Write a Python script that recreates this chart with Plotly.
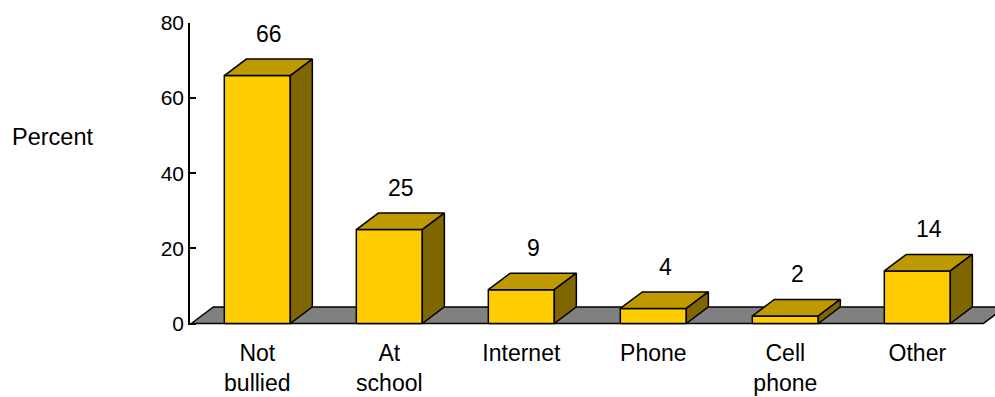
import plotly.graph_objects as go

# ---- data ----
categories = ["Not bullied", "At school", "Internet", "Phone", "Cell phone", "Other"]
tick_labels = ["Not<br>bullied", "At<br>school", "Internet", "Phone", "Cell<br>phone", "Other"]
values = [66, 25, 9, 4, 2, 14]
y_ticks = [0, 20, 40, 60, 80]

# ---- style ----
FRONT = "#FFCC00"
TOP = "#BF9900"
SIDE = "#806600"
FLOOR = "#808080"
FONT = "Liberation Sans, Arial, sans-serif"
HALF = 0.25      # half bar width (category units)
DX = 0.167       # depth offset in x (category units)
DY = 4.4         # depth offset in y (value units)

xs = list(range(len(categories)))

def poly_trace(px, py, color):
    return go.Scatter(x=px, y=py, mode="lines", fill="toself", fillcolor=color,
                      line=dict(color="black", width=1.5), hoverinfo="skip",
                      showlegend=False)

fig = go.Figure()

# floor
x0, x1 = -0.5, len(categories) - 0.5
fig.add_trace(poly_trace([x0, x1, x1 + DX, x0 + DX, x0],
                         [0, 0, DY, DY, 0], FLOOR))

# bars
for xi, v in zip(xs, values):
    l, r = xi - HALF, xi + HALF
    fig.add_trace(poly_trace([l, r, r, l, l], [0, 0, v, v, 0], FRONT))
    fig.add_trace(poly_trace([l, r, r + DX, l + DX, l], [v, v, v + DY, v + DY, v], TOP))
    fig.add_trace(poly_trace([r, r + DX, r + DX, r, r], [0, DY, v + DY, v, 0], SIDE))
    fig.add_annotation(x=xi + DX / 2, y=v + DY, text=str(v), showarrow=False,
                       xanchor="center", yanchor="middle", yshift=25, xshift=1,
                       font=dict(family=FONT, size=23, color="black"))

L, R, T, B = 190, 995, 23, 325.5
W, H = 995, 397
fig.add_annotation(xref="paper", yref="paper", x=(10 - L) / (R - L),
                   y=(B - 137) / (B - T), text="Percent", showarrow=False,
                   xanchor="left", yanchor="middle",
                   font=dict(family=FONT, size=23.5, color="black"))

fig.update_layout(
    width=W, height=H,
    margin=dict(l=L, r=W - R, t=T, b=H - B, autoexpand=False),
    paper_bgcolor="white", plot_bgcolor="white",
    showlegend=False,
    font=dict(family=FONT, color="black"),
    xaxis=dict(range=[-0.51, -0.51 + (R - L) / 132.0], showgrid=False, zeroline=False,
               showline=False, ticks="", tickvals=xs, ticktext=tick_labels,
               tickfont=dict(family=FONT, size=23, color="black"),
               ticklabelstandoff=12, fixedrange=True),
    yaxis=dict(range=[-0.4, 80], showgrid=False, zeroline=False, showline=True,
               linecolor="black", linewidth=1.5, ticks="inside", ticklen=6,
               tickwidth=1.5, tickcolor="black", tickvals=y_ticks,
               tickfont=dict(family=FONT, size=21, color="black"), fixedrange=True),
)

fig.write_html("out.html", config={"displayModeBar": False},
               post_script="document.body.style.margin='0';document.body.style.overflow='hidden';")
